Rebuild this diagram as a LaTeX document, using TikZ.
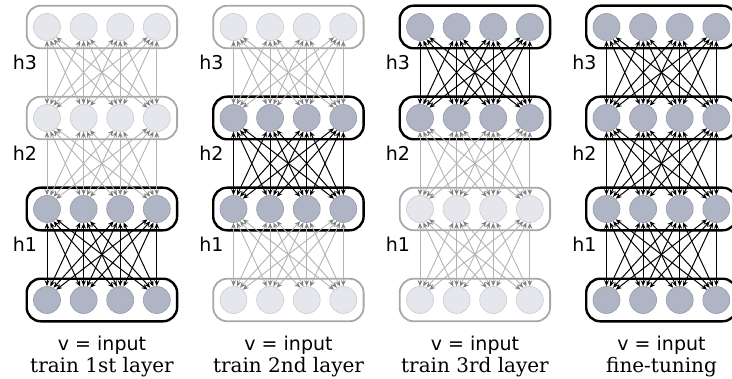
\documentclass[tikz,border=0pt]{standalone}
\usepackage{fontspec}
\setmainfont{DejaVu Serif}
\setsansfont{DejaVu Sans}
\usetikzlibrary{arrows.meta,fit}

\definecolor{unitdark}{RGB}{176,181,197}
\definecolor{unitlight}{RGB}{229,231,237}
\definecolor{linkgray}{RGB}{180,180,180}
\definecolor{boxgray}{RGB}{168,168,168}

\begin{document}
\begin{tikzpicture}[x=0.5pt,y=-0.5pt,
	unit-on/.style={circle,fill=unitdark,draw=unitdark!85!black,line width=0.3pt,minimum size=13.5pt,inner sep=0pt},
	unit-off/.style={circle,fill=unitlight,draw=unitlight!88!black,line width=0.3pt,minimum size=13.5pt,inner sep=0pt},
	layer-on/.style={draw=black,line width=1.2pt,rounded corners=7pt,inner xsep=3.25pt,inner ysep=3.75pt},
	layer-off/.style={draw=boxgray,line width=0.9pt,rounded corners=7pt,inner xsep=3.25pt,inner ysep=3.75pt},
	link-on/.style={black,line width=0.5pt,{Stealth[length=3pt,width=2.4pt]}-{Stealth[length=3pt,width=2.4pt]}},
	link-off/.style={linkgray,line width=0.45pt,{Stealth[length=3pt,width=2.4pt,color=gray]}-{Stealth[length=3pt,width=2.4pt,color=gray]}},
	lab/.style={font=\sffamily\fontsize{9.5}{11}\selectfont,inner sep=0pt}]
	\useasboundingbox (0,0) rectangle (732,379);
	
	% panel / state of h3,h2,h1,v / state of links h3-h2,h2-h1,h1-v
	\foreach \p/\sa/\sb/\sc/\sd/\la/\lb/\lc in {0/off/off/on/on/off/off/on,
			1/off/on/on/off/off/on/off,
			2/on/on/off/off/on/off/off,
			3/on/on/on/on/on/on/on}{
		\foreach \r/\s in {0/\sa,1/\sb,2/\sc,3/\sd}{
			\foreach \i in {0,...,3}
				\node[unit-\s] (u\p\r\i) at (47+186.5*\p+36.6*\i,27+91*\r) {};
			\node[layer-\s,fit=(u\p\r0)(u\p\r3)] (l\p\r) {};
		}
		\foreach \r/\s in {0/\la,1/\lb,2/\lc}{
			\pgfmathtruncatemacro\rn{\r+1}
			\foreach \i in {0,...,3}
				\foreach \j in {0,...,3}{
					\pgfmathtruncatemacro\ao{270+14*(\j-\i)}
					\pgfmathtruncatemacro\ai{90+14*(\j-\i)}
					\draw[link-\s] (u\p\r\i.\ao) -- (u\p\rn\j.\ai);
				}
		}
		\node[lab] (hc\p) at (25+186.5*\p,62) {h3};
		\node[lab] (hb\p) at (25+186.5*\p,153) {h2};
		\node[lab] (ha\p) at (25+186.5*\p,244) {h1};
		\node[lab,anchor=base] (v\p) at (102+186.5*\p,350) {v = input};
	}
	
	\node[anchor=base,inner sep=0pt] (t0) at (102,372) {train 1st layer};
	\node[anchor=base,inner sep=0pt] (t1) at (288.5,372) {train 2nd layer};
	\node[anchor=base,inner sep=0pt] (t2) at (475,372) {train 3rd layer};
	\node[anchor=base,inner sep=0pt] (t3) at (661.5,372) {fine-tuning};
\end{tikzpicture}
\end{document}
